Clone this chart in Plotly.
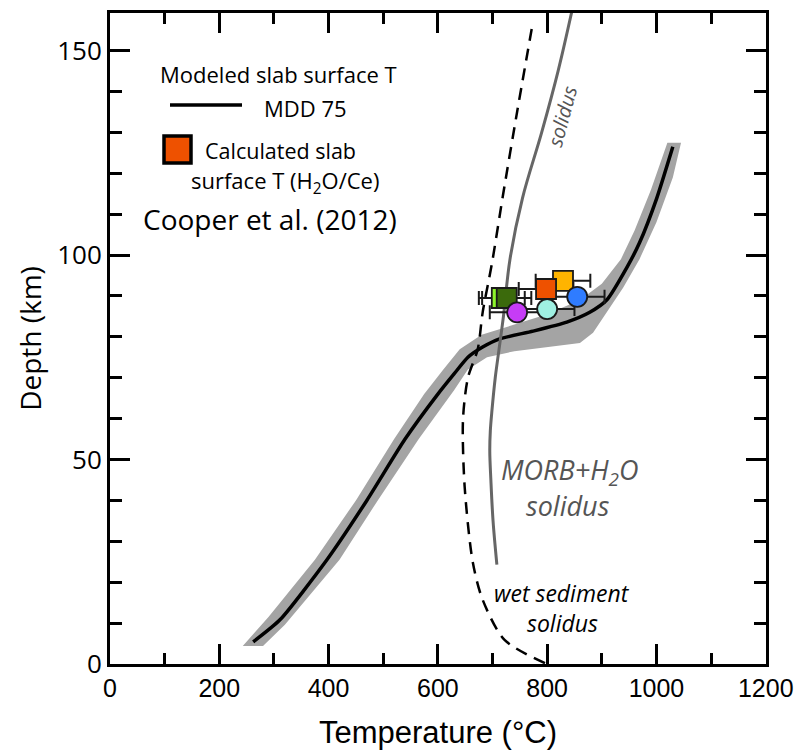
import plotly.graph_objects as go

# Modeled slab surface temperature (MDD 75) and its uncertainty envelope
mdd75_temp = [262, 311, 397, 470, 540, 600, 630, 655, 682, 713, 774, 836, 878, 909, 946, 969, 1000, 1030]
mdd75_depth = [5.4, 10.8, 25.5, 40, 55, 66, 71, 75, 77.5, 79.5, 81.4, 83.6, 86, 89, 97, 103, 113.7, 126.5]

band_upper_temp = [243, 290, 375, 450, 520, 575, 610, 640, 680, 740, 800, 860, 900, 935, 960, 990, 1020]
band_upper_depth = [4.4, 11.5, 25.5, 40, 55, 66, 72, 77, 80.5, 83, 85.5, 89, 93, 99, 106, 116, 127.5]
band_lower_temp = [1045, 1030, 1000, 969, 939, 905, 884, 860, 800, 740, 690, 655, 630, 565, 490, 420, 320, 280]
band_lower_depth = [127.5, 119, 108, 99, 92, 85, 81, 78.5, 77.5, 76.5, 75, 72, 67, 55, 40, 25.5, 9.6, 4.4]

# MORB + H2O solidus
morb_temp = [708, 701, 697, 695, 696, 699, 705, 712, 720, 732, 755, 790, 820, 845]
morb_depth = [24.3, 35, 45, 52, 57, 62, 70, 77, 85, 99, 114, 130, 145, 159.5]

# Wet sediment solidus
sed_temp = [796, 722, 682, 664, 649, 646, 655, 673, 682, 699, 719, 745, 774]
sed_depth = [0.2, 5.9, 15.7, 24.8, 43.4, 59.8, 70, 77, 86, 98, 114.5, 135, 157]

# Calculated slab surface T from H2O/Ce
calc_temp = [717, 726, 829, 798, 745, 800, 855]
calc_depth = [89.5, 89.5, 93.7, 91.7, 86.0, 86.8, 89.8]
calc_err = [42, 45, 50, 50, 50, 50, 50]
calc_symbol = ["square", "square", "square", "square", "circle", "circle", "circle"]
calc_color = ["#8cf52a", "#3b6a0c", "#ffb400", "#ee5100", "#c63cf6", "#9ff0e2", "#2f7cff"]

fig = go.Figure()

fig.add_trace(go.Scatter(
    x=band_upper_temp + band_lower_temp, y=band_upper_depth + band_lower_depth,
    mode="lines", fill="toself", fillcolor="#a4a4a4", line=dict(width=0),
    hoverinfo="skip", showlegend=False))

fig.add_trace(go.Scatter(
    x=mdd75_temp, y=mdd75_depth, mode="lines",
    line=dict(color="black", width=3.5, shape="spline", smoothing=0.6),
    showlegend=False))

fig.add_trace(go.Scatter(
    x=morb_temp, y=morb_depth, mode="lines",
    line=dict(color="#666666", width=3, shape="spline", smoothing=1.0),
    showlegend=False))

fig.add_trace(go.Scatter(
    x=sed_temp, y=sed_depth, mode="lines",
    line=dict(color="black", width=2.5, dash="12px,8px", shape="spline", smoothing=0.8),
    showlegend=False))

# error bars first, so every symbol sits on top of them
fig.add_trace(go.Scatter(
    x=calc_temp, y=calc_depth, mode="markers",
    marker=dict(size=1, opacity=0),
    error_x=dict(type="data", array=calc_err, color="#1a1a1a", thickness=2, width=7),
    hoverinfo="skip", showlegend=False))

for t, d, s, c in zip(calc_temp, calc_depth, calc_symbol, calc_color):
    fig.add_trace(go.Scatter(
        x=[t], y=[d], mode="markers",
        marker=dict(symbol=s, size=20, color=c, line=dict(color="#1a1a1a", width=1.8)),
        showlegend=False))

fig.add_annotation(x=827, y=134, xref="x", yref="y", text="<i>solidus</i>", showarrow=False,
                   textangle=-75, xanchor="center", yanchor="middle",
                   font=dict(family="Open Sans", size=20, color="#555555"))


def page_to_paper(xp, yp):
    # pixel position on the page -> paper coordinates of the plot area
    return (xp - 110) / 656, (664 - yp) / 651


for txt, (xp, yp), size, color, anchor in [
    ("<i>MORB+H<sub>2</sub>O</i>", (569, 471), 27, "#555555", "center"),
    ("<i>solidus</i>", (568, 505), 27, "#555555", "center"),
    ("<i>wet sediment</i>", (562, 593), 23, "black", "center"),
    ("<i>solidus</i>", (562, 623), 23, "black", "center"),
    ("Modeled slab surface T", (278, 74), 22, "black", "center"),
    ("MDD 75", (305, 108), 22, "black", "center"),
    ("Calculated slab", (203, 151), 21.5, "black", "left"),
    ("surface T (H<sub>2</sub>O/Ce)", (285, 182), 22, "black", "center"),
    ("Cooper et al. (2012)", (270, 219), 28, "black", "center"),
]:
    ax, ay = page_to_paper(xp, yp)
    fig.add_annotation(x=ax, y=ay, xref="paper", yref="paper", text=txt, showarrow=False,
                       xanchor=anchor, yanchor="middle",
                       font=dict(family="Open Sans", size=size, color=color))

x0, y0 = page_to_paper(170, 105)
x1, _ = page_to_paper(242, 105)
fig.add_shape(type="line", xref="paper", yref="paper", x0=x0, x1=x1, y0=y0, y1=y0,
              line=dict(color="black", width=3.5))
sx0, sy0 = page_to_paper(164, 163)
sx1, sy1 = page_to_paper(191, 136)
fig.add_shape(type="rect", xref="paper", yref="paper", x0=sx0, x1=sx1, y0=sy0, y1=sy1,
              fillcolor="#ee5100", line=dict(color="black", width=3.5))

fig.update_xaxes(
    range=[0, 1200.5], tickvals=[0, 200, 400, 600, 800, 1000, 1200],
    ticks="inside", ticklen=20, tickwidth=3, tickcolor="black",
    minor=dict(dtick=100, ticks="inside", ticklen=11, tickwidth=3, tickcolor="black"),
    showline=True, linewidth=3, linecolor="black", mirror="ticks",
    showgrid=False, zeroline=False, ticklabeloverflow="allow", automargin=False,
    tickfont=dict(family="Liberation Sans", size=25, color="black"),
    title=dict(text="Temperature (°C)", standoff=21,
               font=dict(family="Liberation Sans", size=31, color="black")))
fig.update_yaxes(
    range=[0, 159.2], tickvals=[0, 50, 100, 150],
    ticks="inside", ticklen=20, tickwidth=3, tickcolor="black",
    minor=dict(dtick=10, ticks="inside", ticklen=12, tickwidth=3, tickcolor="black"),
    showline=True, linewidth=3, linecolor="black", mirror="ticks",
    showgrid=False, zeroline=False, automargin=False,
    tickfont=dict(family="Open Sans", size=26, color="black"),
    title=dict(text="Depth (km)", standoff=8,
               font=dict(family="Open Sans", size=28, color="black")))

fig.update_layout(
    width=796, height=755, margin=dict(l=110, r=30, t=13, b=91, autoexpand=False),
    plot_bgcolor="white", paper_bgcolor="white", showlegend=False)

fig.write_html("out.html")
